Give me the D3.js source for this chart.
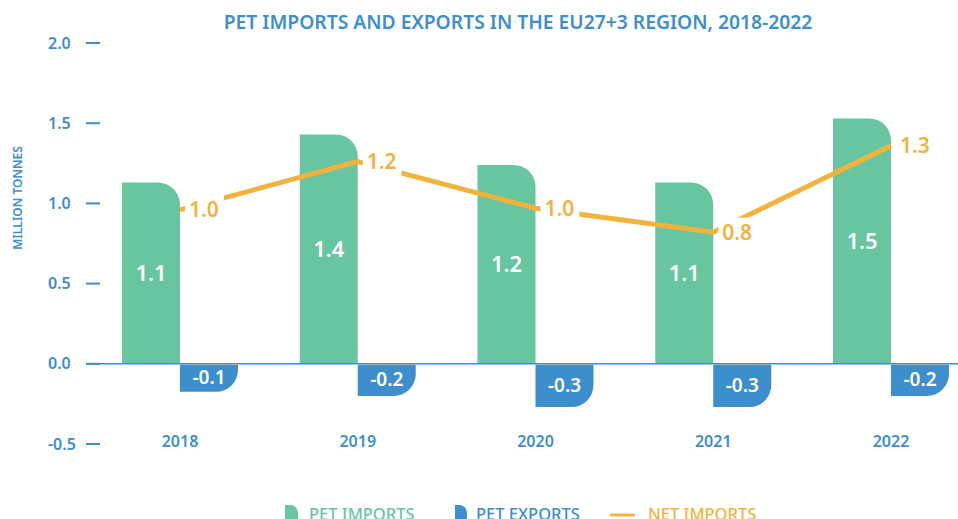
<!DOCTYPE html>
<html>
<head>
<meta charset="utf-8">
<script src="https://cdn.jsdelivr.net/npm/d3@7"></script>
<style>
  body { margin: 0; background: #fff; }
  svg { display: block; font-family: "Noto Sans", "Open Sans", sans-serif; }
</style>
</head>
<body>
<svg width="958" height="519"></svg>
<script>
// data
var years = ['2018', '2019', '2020', '2021', '2022'],
    imports = [1.13, 1.43, 1.24, 1.13, 1.53],
    importLabels = ['1.1', '1.4', '1.2', '1.1', '1.5'],
    exports = [-0.175, -0.2, -0.27, -0.27, -0.2],
    exportLabels = ['-0.1', '-0.2', '-0.3', '-0.3', '-0.2'],
    netImports = [0.96, 1.26, 0.97, 0.82, 1.36],
    netLabels = ['1.0', '1.2', '1.0', '0.8', '1.3'],
    yTicks = [-0.5, 0, 0.5, 1, 1.5, 2]

var green = '#67c5a0',
    blue = '#3d8ecd',
    orange = '#f2b33d'

var svg = d3.select('svg'),
    barW = 58,
    radius = 22

var x = d3.scalePoint().domain(years).range([180, 891])
var y = d3.scaleLinear().domain([-0.5, 2]).range([444, 43])

// title
svg.append('text')
    .attr('x', 518).attr('y', 29)
    .attr('text-anchor', 'middle')
    .attr('fill', blue)
    .style('font-size', '19.3px').style('font-weight', 600)
    .text('PET IMPORTS AND EXPORTS IN THE EU27+3 REGION, 2018-2022')

// y axis title
svg.append('text')
    .attr('transform', 'translate(22,198) rotate(-90)')
    .attr('text-anchor', 'middle')
    .attr('fill', blue)
    .style('font-size', '12px').style('font-weight', 600)
    .text('MILLION TONNES')

// y ticks (plain hyphen like the original)
var tick = svg.append('g').selectAll('g')
    .data(yTicks)
    .enter().append('g')
    .attr('transform', d=>'translate(0,' + y(d) + ')')
tick.append('line')
    .attr('x1', 86).attr('x2', 100)
    .attr('stroke', blue).attr('stroke-width', 2)
tick.append('text')
    .attr('x', 48).attr('dy', '0.35em')
    .attr('fill', blue)
    .style('font-size', '16px').style('font-weight', 600)
    .text(d=>d.toFixed(1))

// imports bars, top right corner rounded
function topRound(x0, x1, y0, y1, r){
    r = Math.min(r, y1 - y0)
    return 'M' + x0 + ',' + y1 + 'V' + y0 + 'H' + (x1 - r) +
        'A' + r + ',' + r + ' 0 0 1 ' + x1 + ',' + (y0 + r) + 'V' + y1 + 'Z'
}
// exports bars, bottom right corner rounded
function bottomRound(x0, x1, y0, y1, r){
    r = Math.min(r, y1 - y0)
    return 'M' + x0 + ',' + y0 + 'H' + x1 + 'V' + (y1 - r) +
        'A' + r + ',' + r + ' 0 0 1 ' + (x1 - r) + ',' + y1 + 'H' + x0 + 'Z'
}

svg.append('g').selectAll('path')
    .data(imports)
    .enter().append('path')
    .attr('fill', green)
    .attr('d', (d,i)=>topRound(x(years[i]) - barW, x(years[i]), y(d), y(0), radius))

svg.append('g').selectAll('path')
    .data(exports)
    .enter().append('path')
    .attr('fill', blue)
    .attr('d', (d,i)=>bottomRound(x(years[i]), x(years[i]) + barW, y(0) + 1, y(d), radius))

// zero line
svg.append('line')
    .attr('x1', 86).attr('x2', 958)
    .attr('y1', y(0)).attr('y2', y(0))
    .attr('stroke', blue).attr('stroke-width', 1.5)

// bar labels
svg.append('g').selectAll('text')
    .data(imports)
    .enter().append('text')
    .attr('x', (d,i)=>x(years[i]) - barW / 2)
    .attr('y', d=>(y(d) + y(0)) / 2)
    .attr('dy', '0.35em')
    .attr('text-anchor', 'middle')
    .attr('fill', '#fff')
    .style('font-size', '22px').style('font-weight', 600)
    .text((d,i)=>importLabels[i])

svg.append('g').selectAll('text')
    .data(exports)
    .enter().append('text')
    .attr('x', (d,i)=>x(years[i]) + barW / 2)
    .attr('y', d=>(y(d) + y(0)) / 2)
    .attr('dy', '0.35em')
    .attr('text-anchor', 'middle')
    .attr('fill', '#fff')
    .style('font-size', '19px').style('font-weight', 600)
    .text((d,i)=>exportLabels[i])

// net imports line
var line = d3.line()
    .x((d,i)=>x(years[i]))
    .y(d=>y(d))

svg.append('path')
    .datum(netImports)
    .attr('d', line)
    .attr('fill', 'none')
    .attr('stroke', orange)
    .attr('stroke-width', 5)

// labels sit on a white box that cuts the line
var netG = svg.append('g').selectAll('g')
    .data(netImports)
    .enter().append('g')
netG.append('rect').attr('fill', '#fff')
netG.append('text')
    .attr('x', (d,i)=>x(years[i]) + 9)
    .attr('y', d=>y(d))
    .attr('dy', '0.35em')
    .attr('fill', orange)
    .style('font-size', '21px').style('font-weight', 600)
    .text((d,i)=>netLabels[i])
netG.each(function(){
    var b = d3.select(this).select('text').node().getBBox()
    d3.select(this).select('rect')
        .attr('x', b.x - 4).attr('y', b.y)
        .attr('width', b.width + 9).attr('height', b.height)
})

// x labels
svg.append('g').selectAll('text')
    .data(years)
    .enter().append('text')
    .attr('x', d=>x(d))
    .attr('y', 447)
    .attr('text-anchor', 'middle')
    .attr('fill', blue)
    .style('font-size', '16px').style('font-weight', 600)
    .text(d=>d)

// legend, cut by the bottom edge as in the original
var legend = svg.append('g')
legend.append('path').attr('fill', green).attr('d', topRound(285, 298, 505, 525, 8))
legend.append('text').attr('x', 309).attr('y', 520).attr('fill', green)
    .style('font-size', '16.5px').style('font-weight', 500).text('PET IMPORTS')
legend.append('path').attr('fill', blue).attr('d', topRound(455, 467, 505, 525, 8))
legend.append('text').attr('x', 476).attr('y', 520).attr('fill', blue)
    .style('font-size', '16.5px').style('font-weight', 500).text('PET EXPORTS')
legend.append('line').attr('x1', 610).attr('x2', 635).attr('y1', 515).attr('y2', 515)
    .attr('stroke', orange).attr('stroke-width', 3)
legend.append('text').attr('x', 648).attr('y', 520).attr('fill', orange)
    .style('font-size', '16.5px').style('font-weight', 500).text('NET IMPORTS')
</script>
</body>
</html>
